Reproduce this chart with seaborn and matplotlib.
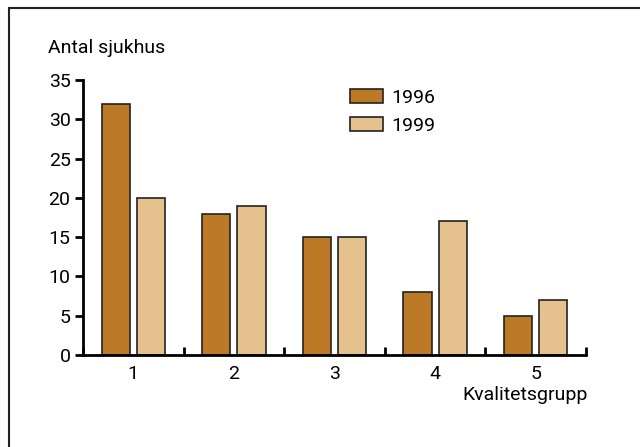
import matplotlib.pyplot as plt
import seaborn as sns
import pandas as pd
from matplotlib.patches import Rectangle
from matplotlib.ticker import FixedLocator

groups = ['1', '2', '3', '4', '5']
v1996 = [32, 18, 15, 8, 5]
v1999 = [20, 19, 15, 17, 7]
years = ['1996', '1999']
yticks = [0, 5, 10, 15, 20, 25, 30, 35]

df = pd.DataFrame({
    'grupp': groups * 2,
    'antal': v1996 + v1999,
    'ar': [years[0]] * len(groups) + [years[1]] * len(groups),
})

sns.set_style('white')
plt.rcParams['font.family'] = ['Roboto', 'DejaVu Sans']
plt.rcParams['text.color'] = 'black'
plt.rcParams['xtick.color'] = 'black'
plt.rcParams['ytick.color'] = 'black'

fig = plt.figure(figsize=(6.4, 4.47), dpi=100)
ax = fig.add_axes([83/640, 1-355/447, (586-83)/640, (355-80)/447])

pal = {'1996': '#bc7a26', '1999': '#e5c28d'}
sns.barplot(data=df, x='grupp', y='antal', hue='ar', palette=pal, width=0.7, gap=0.2,
            edgecolor='#222222', linewidth=1.2, saturation=1, ax=ax)

ax.set_xlim(-0.5, 4.5)
ax.set_ylim(0, 35)
ax.set_yticks(yticks)
ax.tick_params(axis='y', direction='out', length=6, width=2, labelsize=14, pad=3, left=True)
ax.tick_params(axis='x', which='major', length=0, labelsize=14, pad=7)
ax.xaxis.set_minor_locator(FixedLocator([-0.5, 0.5, 1.5, 2.5, 3.5, 4.5]))
ax.tick_params(axis='x', which='minor', direction='in', length=6, width=2, bottom=True)
for s in ['top', 'right']:
    ax.spines[s].set_visible(False)
for s in ['left', 'bottom']:
    ax.spines[s].set_linewidth(2)
    ax.spines[s].set_color('black')
ax.set_xlabel('')
ax.set_ylabel('')

fig.text(48/640, 1-48/447, 'Antal sjukhus', fontsize=14, va='center', ha='left')
fig.text(588/640, 1-395/447, 'Kvalitetsgrupp', fontsize=14, va='center', ha='right')

leg = ax.legend(loc='upper left', bbox_to_anchor=((350-83)/503, (355-89)/275), frameon=False,
                fontsize=14, handlelength=1.7, handleheight=0.7, labelspacing=0.5,
                handletextpad=0.45, borderpad=0, borderaxespad=0)

fig.patches.append(Rectangle((9/640, -0.1), 1.2, 1.1 - 8/447, transform=fig.transFigure,
                             fill=False, edgecolor='#222222', linewidth=1.5))

fig.savefig('out.png', dpi=100)
